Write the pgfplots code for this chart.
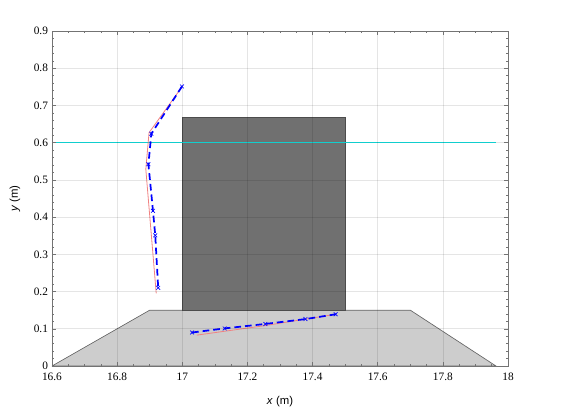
\documentclass[border=0pt]{standalone}
\usepackage{pgfplots}
\pgfplotsset{compat=1.18}
\usepackage{fontspec}
\setmainfont{Liberation Serif}
\newfontfamily\labelfont{Liberation Sans}
\definecolor{watercyan}{RGB}{20,230,230}
\definecolor{refred}{RGB}{240,130,130}
\definecolor{trapfill}{RGB}{205,205,205}
\definecolor{boxfill}{RGB}{112,112,112}
\begin{document}
\begin{tikzpicture}
\useasboundingbox (-39pt,-36pt) rectangle (384pt,274.5pt);
\begin{axis}[
  scale only axis, width=342pt, height=251.25pt,
  xmin=16.6, xmax=18, ymin=0, ymax=0.9,
  xtick={16.6,16.8,...,18.01}, ytick={0,0.1,...,0.91},
  minor x tick num=3, minor y tick num=4,
  xticklabels={16.6,16.8,17,17.2,17.4,17.6,17.8,18},
  yticklabels={0,0.1,0.2,0.3,0.4,0.5,0.6,0.7,0.8,0.9},
  tick label style={font=\fontsize{8.5}{10}\selectfont},
  xticklabel style={yshift=-1.5pt},
  yticklabel style={xshift=0.5pt},
  /pgf/number format/assume math mode=true,
  xmajorgrids, ymajorgrids,
  major grid style={black, opacity=0.1, line width=0.5pt},
  axis line style={black!55},
  tick style={black!55, line width=0.4pt},
  major tick length=3pt, minor tick length=1.8pt,
  tick align=inside,
  axis on top,
  xlabel={\labelfont\fontsize{8.5}{10}\selectfont\textit{x} (m)},
  ylabel={\labelfont\fontsize{8.5}{10}\selectfont\textit{y} (m)},
  every axis x label/.style={at={(axis description cs:0.5,-0.107)}, anchor=center},
  every axis y label/.style={at={(axis description cs:-0.081,0.5)}, anchor=center, rotate=90},
]
% trapezoid
\addplot[draw=black!60, fill=trapfill, line width=0.5pt] coordinates {
  (16.6,0) (16.9,0.15) (17.7,0.15) (17.963,0) } -- cycle;
% box
\addplot[draw=black!70, fill=boxfill, line width=0.5pt] coordinates {
  (17.0,0.15) (17.0,0.668) (17.5,0.668) (17.5,0.15) } -- cycle;
% water line
\addplot[watercyan, line width=1.2pt] coordinates {(16.6,0.6) (17.963,0.6)};
% red reference
\addplot[refred, line width=0.6pt] coordinates {
  (17.0,0.751) (16.898,0.627) (16.888,0.529) (16.920,0.195)};
\addplot[refred, line width=0.6pt] coordinates {
  (17.045,0.083) (17.25,0.108) (17.471,0.139)};
% blue dashed
\addplot[blue, line width=1.3pt, dash pattern=on 5pt off 3pt, mark=x, mark size=2pt,
  mark options={solid, line width=0.5pt}] coordinates {
  (16.999,0.751) (16.905,0.624) (16.896,0.542) (16.910,0.417) (16.917,0.351) (16.926,0.210)};
\addplot[blue, line width=1.3pt, dash pattern=on 5pt off 3pt, mark=x, mark size=2pt,
  mark options={solid, line width=0.5pt}] coordinates {
  (17.030,0.090) (17.130,0.101) (17.255,0.113) (17.378,0.126) (17.471,0.139)};
\end{axis}
\end{tikzpicture}
\end{document}
